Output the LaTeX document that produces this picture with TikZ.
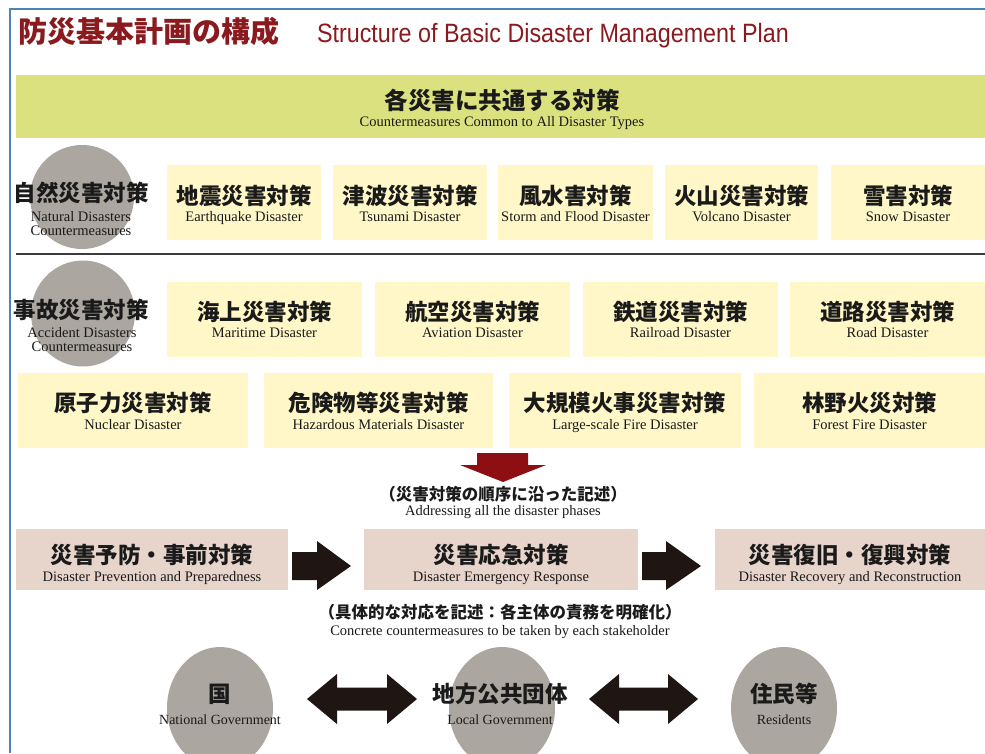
\documentclass[tikz,border=0pt]{standalone}
\usepackage{fontspec}
\usetikzlibrary{shapes.geometric}
\setmainfont{Liberation Serif}
\newfontfamily\jpfont{Noto Sans CJK JP}
\newfontfamily\ttlfont[FakeStretch=0.88]{Liberation Sans}
\definecolor{frameblue}{HTML}{4F81BD}
\definecolor{ttlred}{HTML}{8B1A1E}
\definecolor{bandgreen}{HTML}{DCE17F}
\definecolor{boxyellow}{HTML}{FFF7C7}
\definecolor{circgray}{HTML}{ABA7A0}
\definecolor{phasepink}{HTML}{E7D4CB}
\definecolor{blk}{HTML}{1F1513}
\definecolor{arrred}{HTML}{8E0F12}
\definecolor{ink}{HTML}{1A1A1A}
\definecolor{rulegray}{HTML}{3C3C3C}
\begin{document}
\begin{tikzpicture}[x=1pt,y=-1pt,
  every node/.style={inner sep=0pt,outer sep=0pt},
  ybox/.style={fill=boxyellow,draw=none},
  pbox/.style={fill=phasepink,draw=none},
  gcirc/.style={ellipse,fill=circgray,draw=none},
  jp/.style={font=\jpfont\bfseries\fontsize{22.5}{26}\selectfont,text=ink,anchor=center},
  jpm/.style={font=\jpfont\bfseries\fontsize{16.5}{19}\selectfont,text=ink,anchor=center},
  en/.style={font=\fontsize{14.5}{17}\selectfont,text=ink,anchor=base},
  blkarrow/.style={fill=blk,draw=none}
]
\useasboundingbox (0,0) rectangle (985,753);
\fill[white] (0,0) rectangle (985,753);

% frame
\draw[frameblue,line width=2.2pt] (10,753) -- (10,9) -- (985,9);

% title
\node[anchor=base west,font=\jpfont\bfseries\fontsize{29}{32}\selectfont,text=ttlred] (t1) at (18,42) {防災基本計画の構成};
\node[anchor=base west,font=\ttlfont\fontsize{26.5}{30}\selectfont,text=ttlred] (t2) at (317,42) {Structure of Basic Disaster Management Plan};

% common band
\node[fill=bandgreen,minimum width=969,minimum height=63] (band) at (500.5,106.5) {};
\node[jp,font=\jpfont\bfseries\fontsize{23.5}{27}\selectfont] (bandjp) at (502,100.5) {各災害に共通する対策};
\node[en] (banden) at (502,126.5) {Countermeasures Common to All Disaster Types};

% natural row
\node[gcirc,minimum width=104,minimum height=104] (c1) at (82,197) {};
\node[jp] (c1jp) at (81,193) {自然災害対策};
\node[en] (c1en1) at (81,221.5) {Natural Disasters};
\node[en] (c1en2) at (81,235.5) {Countermeasures};

\node[ybox,minimum width=154,minimum height=75] (n1) at (244,202.5) {};
\node[ybox,minimum width=154,minimum height=75] (n2) at (410,202.5) {};
\node[ybox,minimum width=155,minimum height=75] (n3) at (575.5,202.5) {};
\node[ybox,minimum width=153,minimum height=75] (n4) at (741.5,202.5) {};
\node[ybox,minimum width=154,minimum height=75] (n5) at (908,202.5) {};
\node[jp] (n1jp) at (244,196) {地震災害対策};
\node[en] (n1en) at (244,221.5) {Earthquake Disaster};
\node[jp] (n2jp) at (410,196) {津波災害対策};
\node[en] (n2en) at (410,221.5) {Tsunami Disaster};
\node[jp] (n3jp) at (575.5,196) {風水害対策};
\node[en] (n3en) at (575.5,221.5) {Storm and Flood Disaster};
\node[jp] (n4jp) at (741.5,196) {火山災害対策};
\node[en] (n4en) at (741.5,221.5) {Volcano Disaster};
\node[jp] (n5jp) at (908,196) {雪害対策};
\node[en] (n5en) at (908,221.5) {Snow Disaster};

% divider
\coordinate (dl) at (16,254);
\coordinate (dr) at (985,254);
\draw[rulegray,line width=2pt] (dl) -- (dr);

% accident row
\node[gcirc,minimum width=104,minimum height=106] (c2) at (83,313.5) {};
\node[jp] (c2jp) at (81,310) {事故災害対策};
\node[en] (c2en1) at (82,337.5) {Accident Disasters};
\node[en] (c2en2) at (82,351.5) {Countermeasures};

\node[ybox,minimum width=195,minimum height=75] (a1) at (264.5,319.5) {};
\node[ybox,minimum width=195,minimum height=75] (a2) at (472.5,319.5) {};
\node[ybox,minimum width=195,minimum height=75] (a3) at (680.5,319.5) {};
\node[ybox,minimum width=195,minimum height=75] (a4) at (887.5,319.5) {};
\node[jp] (a1jp) at (264.5,312) {海上災害対策};
\node[en] (a1en) at (264.5,337.5) {Maritime Disaster};
\node[jp] (a2jp) at (472.5,312) {航空災害対策};
\node[en] (a2en) at (472.5,337.5) {Aviation Disaster};
\node[jp] (a3jp) at (680.5,312) {鉄道災害対策};
\node[en] (a3en) at (680.5,337.5) {Railroad Disaster};
\node[jp] (a4jp) at (887.5,312) {道路災害対策};
\node[en] (a4en) at (887.5,337.5) {Road Disaster};

\node[ybox,minimum width=230,minimum height=75] (r1) at (133,410.5) {};
\node[ybox,minimum width=229,minimum height=75] (r2) at (378.5,410.5) {};
\node[ybox,minimum width=232,minimum height=75] (r3) at (625,410.5) {};
\node[ybox,minimum width=231,minimum height=75] (r4) at (869.5,410.5) {};
\node[jp] (r1jp) at (133,403) {原子力災害対策};
\node[en] (r1en) at (133,429.5) {Nuclear Disaster};
\node[jp] (r2jp) at (378.5,403) {危険物等災害対策};
\node[en] (r2en) at (378.5,429.5) {Hazardous Materials Disaster};
\node[jp] (r3jp) at (625,403) {大規模火事災害対策};
\node[en] (r3en) at (625,429.5) {Large-scale Fire Disaster};
\node[jp] (r4jp) at (869.5,403) {林野火災対策};
\node[en] (r4en) at (869.5,429.5) {Forest Fire Disaster};

% red down arrow
\fill[arrred] (477,453) -- (528,453) -- (528,465) -- (546,465) -- (503,482) -- (460,465) -- (477,465) -- cycle;
\node[jpm] (m1jp) at (503,494.5) {（災害対策の順序に沿った記述）};
\node[en] (m1en) at (503,515.5) {Addressing all the disaster phases};

% phases
\node[pbox,minimum width=272,minimum height=61] (p1) at (152,559.5) {};
\node[pbox,minimum width=274,minimum height=61] (p2) at (501,559.5) {};
\node[pbox,minimum width=270,minimum height=61] (p3) at (850,559.5) {};
\node[jp] (p1jp) at (152,555) {災害予防・事前対策};
\node[en] (p1en) at (152,581.5) {Disaster Prevention and Preparedness};
\node[jp] (p2jp) at (501,555) {災害応急対策};
\node[en] (p2en) at (501,581.5) {Disaster Emergency Response};
\node[jp] (p3jp) at (850,555) {災害復旧・復興対策};
\node[en] (p3en) at (850,581.5) {Disaster Recovery and Reconstruction};

\fill[blkarrow] (292,552) -- (317,552) -- (317,541) -- (351,566) -- (317,590) -- (317,580) -- (292,580) -- cycle;
\fill[blkarrow] (642,552) -- (666,552) -- (666,541) -- (701,566) -- (666,590) -- (666,580) -- (642,580) -- cycle;

\node[jpm] (m2jp) at (500,612.5) {（具体的な対応を記述：各主体の責務を明確化）};
\node[en] (m2en) at (500,635.5) {Concrete countermeasures to be taken by each stakeholder};

% stakeholders
\node[gcirc,minimum width=106,minimum height=122] (g1) at (220,708) {};
\node[gcirc,minimum width=106,minimum height=122] (g2) at (502,708) {};
\node[gcirc,minimum width=106,minimum height=122] (g3) at (784,708) {};
\node[jp] (g1jp) at (220,694) {国};
\node[en,font=\fontsize{14}{16}\selectfont] (g1en) at (220,724) {National Government};
\node[jp] (g2jp) at (500,694) {地方公共団体};
\node[en,font=\fontsize{14}{16}\selectfont] (g2en) at (500,724) {Local Government};
\node[jp] (g3jp) at (784,694) {住民等};
\node[en,font=\fontsize{14}{16}\selectfont] (g3en) at (784,724) {Residents};

\fill[blkarrow] (307,699) -- (337,674) -- (337,687.5) -- (387,687.5) -- (387,674) -- (417,699) -- (387,724) -- (387,710.5) -- (337,710.5) -- (337,724) -- cycle;
\fill[blkarrow] (589,699) -- (619,674) -- (619,687.5) -- (668,687.5) -- (668,674) -- (698,699) -- (668,724) -- (668,710.5) -- (619,710.5) -- (619,724) -- cycle;
\end{tikzpicture}
\end{document}
